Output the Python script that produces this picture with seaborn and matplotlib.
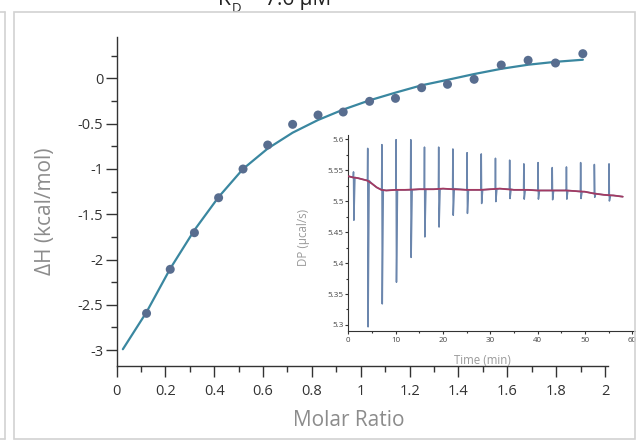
import numpy as np
import pandas as pd
import matplotlib
matplotlib.use("Agg")
import matplotlib.pyplot as plt
import seaborn as sns
from matplotlib.patches import Rectangle
from matplotlib.lines import Line2D
from matplotlib.ticker import MultipleLocator, FuncFormatter

# ---------------- data ----------------
molar_ratio = [0.123, 0.220, 0.319, 0.418, 0.518, 0.619, 0.721, 0.825, 0.928,
               1.036, 1.142, 1.249, 1.355, 1.464, 1.575, 1.685, 1.797, 1.909]
delta_h = [-2.594, -2.108, -1.704, -1.318, -1.001, -0.736, -0.508, -0.405, -0.372,
           -0.254, -0.221, -0.104, -0.066, -0.011, 0.147, 0.199, 0.169, 0.272]

fit_x = [0.026, 0.123, 0.220, 0.319, 0.418, 0.518, 0.619, 0.721, 0.825, 0.928,
         1.036, 1.142, 1.249, 1.355, 1.464, 1.575, 1.685, 1.797, 1.909]
fit_y = [-2.99, -2.58, -2.10, -1.675, -1.31, -1.00, -0.775, -0.60, -0.46, -0.345,
         -0.243, -0.158, -0.077, -0.017, 0.047, 0.105, 0.150, 0.182, 0.205]

# inset: raw thermogram
inj_time = [1.1, 4.1, 7.1, 10.1, 13.2, 16.1, 19.1, 22.1, 25.1, 28.1, 31.1, 34.1,
            37.1, 40.1, 43.1, 46.1, 49.1, 52.0, 55.1]
spike_hi = [5.547, 5.585, 5.591, 5.599, 5.599, 5.587, 5.587, 5.584, 5.578, 5.576,
            5.569, 5.566, 5.560, 5.562, 5.554, 5.555, 5.562, 5.559, 5.560]
spike_lo = [5.469, 5.297, 5.334, 5.369, 5.409, 5.442, 5.458, 5.477, 5.480, 5.496,
            5.499, 5.504, 5.503, 5.503, 5.502, 5.503, 5.504, 5.506, 5.500]
spike_base = [5.538, 5.533, 5.518, 5.518, 5.518, 5.519, 5.519, 5.520, 5.518, 5.518,
              5.519, 5.519, 5.518, 5.517, 5.517, 5.517, 5.515, 5.512, 5.509]

base_time = [0, 1, 2, 3, 4, 5, 6, 7, 8, 10, 12, 15, 18, 20, 22, 25, 28, 30, 32,
             35, 38, 40, 43, 46, 48, 50, 52, 54, 56, 58]
base_dp = [5.540, 5.538, 5.537, 5.535, 5.533, 5.528, 5.522, 5.518, 5.517, 5.518,
           5.518, 5.519, 5.519, 5.520, 5.519, 5.518, 5.518, 5.519, 5.520, 5.518,
           5.518, 5.517, 5.517, 5.517, 5.516, 5.515, 5.512, 5.510, 5.509, 5.507]

title_kd = "7.6 µM"

# ---------------- style ----------------
sns.set_style("ticks")
plt.rcParams['font.family'] = ['Open Sans', 'DejaVu Sans']
plt.rcParams['axes.unicode_minus'] = False

W, H = 639, 445
fig = plt.figure(figsize=(W / 100, H / 100), dpi=100)
fig.patch.set_facecolor("white")

def fx(px):
    return px / W

def fy(py):
    return (H - py) / H

tick_col = "#333333"
lab_col = "#8c8c8c"
fmt = FuncFormatter(lambda v, p: f"{v:g}")

# ---------------- main axes ----------------
L, R, T, B = 116.5, 608, 37, 366
ax = fig.add_axes([fx(L), fy(B), (R - L) / W, (B - T) / H])
ax.set_facecolor("none")

fit_df = pd.DataFrame({"x": fit_x, "y": fit_y})
pts_df = pd.DataFrame({"x": molar_ratio, "y": delta_h})
sns.lineplot(data=fit_df, x="x", y="y", ax=ax, color="#3a87a0", lw=1.6,
             sort=False, estimator=None, zorder=2)
sns.scatterplot(data=pts_df, x="x", y="y", ax=ax, color="#586d8f", s=42,
                edgecolor="none", linewidth=0, zorder=3)

ax.set_xlim(0, 2.012)
ax.set_ylim(-3.175, 0.456)
ax.xaxis.set_major_locator(MultipleLocator(0.2))
ax.xaxis.set_minor_locator(MultipleLocator(0.1))
ax.yaxis.set_major_locator(MultipleLocator(0.5))
ax.yaxis.set_minor_locator(MultipleLocator(0.25))
ax.xaxis.set_major_formatter(fmt)
ax.yaxis.set_major_formatter(fmt)
for s in ["top", "right"]:
    ax.spines[s].set_visible(False)
for s in ["left", "bottom"]:
    ax.spines[s].set_color(tick_col)
    ax.spines[s].set_linewidth(1.0)
ax.tick_params(axis="both", which="major", length=8, width=1.0, color=tick_col,
               labelcolor=tick_col, labelsize=10.5, direction="out")
ax.tick_params(axis="both", which="minor", length=4.5, width=1.0, color=tick_col,
               direction="out")
ax.tick_params(axis="x", which="major", pad=5)
ax.tick_params(axis="y", which="major", pad=1.5)

ax.set_xlabel("Molar Ratio", fontsize=15, color=lab_col, va="center")
ax.set_ylabel("ΔH (kcal/mol)", fontsize=15, color=lab_col, va="center")
ax.xaxis.set_label_coords((349 - L) / (R - L), (B - 420) / (B - T))
ax.yaxis.set_label_coords((45 - L) / (R - L), (B - 211) / (B - T))

# ---------------- inset ----------------
iL, iR, iT, iB = 348.3, 636, 135, 330.7
ax2 = fig.add_axes([fx(iL), fy(iB), (iR - iL) / W, (iB - iT) / H])
ax2.set_facecolor("none")

rows_t, rows_v = list(base_time), list(base_dp)
for t, hi, lo, b in zip(inj_time, spike_hi, spike_lo, spike_base):
    rows_t += [t - 0.06, t, t + 0.08, t + 0.3]
    rows_v += [b, hi, lo, b]
trace = pd.DataFrame({"t": rows_t, "dp": rows_v}).sort_values("t", kind="stable")
sns.lineplot(data=trace, x="t", y="dp", ax=ax2, color="#6b86ad", lw=1.1,
             sort=False, estimator=None, zorder=2)
base_df = pd.DataFrame({"t": base_time, "dp": base_dp})
sns.lineplot(data=base_df, x="t", y="dp", ax=ax2, color="#a33a62", lw=1.3,
             sort=False, estimator=None, zorder=3)

ax2.set_xlim(0, 60.8)
ax2.set_ylim(5.2908, 5.6065)
ax2.xaxis.set_major_locator(MultipleLocator(10))
ax2.xaxis.set_minor_locator(MultipleLocator(5))
ax2.yaxis.set_major_locator(MultipleLocator(0.05))
ax2.yaxis.set_minor_locator(MultipleLocator(0.025))
ax2.xaxis.set_major_formatter(fmt)
ax2.yaxis.set_major_formatter(fmt)
for s in ["top", "right"]:
    ax2.spines[s].set_visible(False)
for s in ["left", "bottom"]:
    ax2.spines[s].set_color(tick_col)
    ax2.spines[s].set_linewidth(0.8)
ax2.tick_params(axis="both", which="major", length=2.5, width=0.8, color=tick_col,
                labelcolor="#444444", labelsize=5.8, direction="out")
ax2.tick_params(axis="both", which="minor", length=1.6, width=0.8, color=tick_col,
                direction="out")
ax2.tick_params(axis="y", which="major", pad=0.8)
ax2.tick_params(axis="x", which="major", pad=2)
ax2.set_xlabel("Time (min)", fontsize=8.3, color="#9a9a9a", va="center")
ax2.set_ylabel("DP (µcal/s)", fontsize=8.3, color="#9a9a9a", va="center")
ax2.xaxis.set_label_coords((482 - iL) / (iR - iL), (iB - 360) / (iB - iT))
ax2.yaxis.set_label_coords((304 - iL) / (iR - iL), (iB - 238) / (iB - iT))

# ---------------- title (cut off at top, as in the screenshot) ----------------
fig.text(fx(218), fy(5), "K", fontsize=15, color="#222222", ha="left", va="baseline")
fig.text(fx(231.5), fy(12.5), "D", fontsize=9.5, color="#222222", ha="left", va="baseline")
fig.text(fx(246), fy(5), "=", fontsize=15, color="#222222", ha="left", va="baseline")
fig.text(fx(265), fy(5), title_kd, fontsize=15, color="#222222", ha="left", va="baseline")

# ---------------- screenshot frame ----------------
fig.add_artist(Rectangle((fx(635.7), 0), 1, 1, transform=fig.transFigure,
                         fc="white", ec="none", zorder=15))
frame_col = "#d2d2d2"
fig.add_artist(Rectangle((fx(14), fy(438.7)), (635 - 14) / W, (438.7 - 11.5) / H,
                         transform=fig.transFigure, fill=False, ec=frame_col,
                         lw=1.2, zorder=20))
fig.add_artist(Line2D([fx(4.5), fx(4.5)], [fy(12), fy(439)], transform=fig.transFigure,
                      color=frame_col, lw=1.2, zorder=20))
fig.add_artist(Line2D([0, fx(4.5)], [fy(12), fy(12)], transform=fig.transFigure,
                      color=frame_col, lw=1.2, zorder=20))
fig.add_artist(Line2D([0, fx(4.5)], [fy(439), fy(439)], transform=fig.transFigure,
                      color=frame_col, lw=1.2, zorder=20))

fig.savefig("out.png", dpi=100)
